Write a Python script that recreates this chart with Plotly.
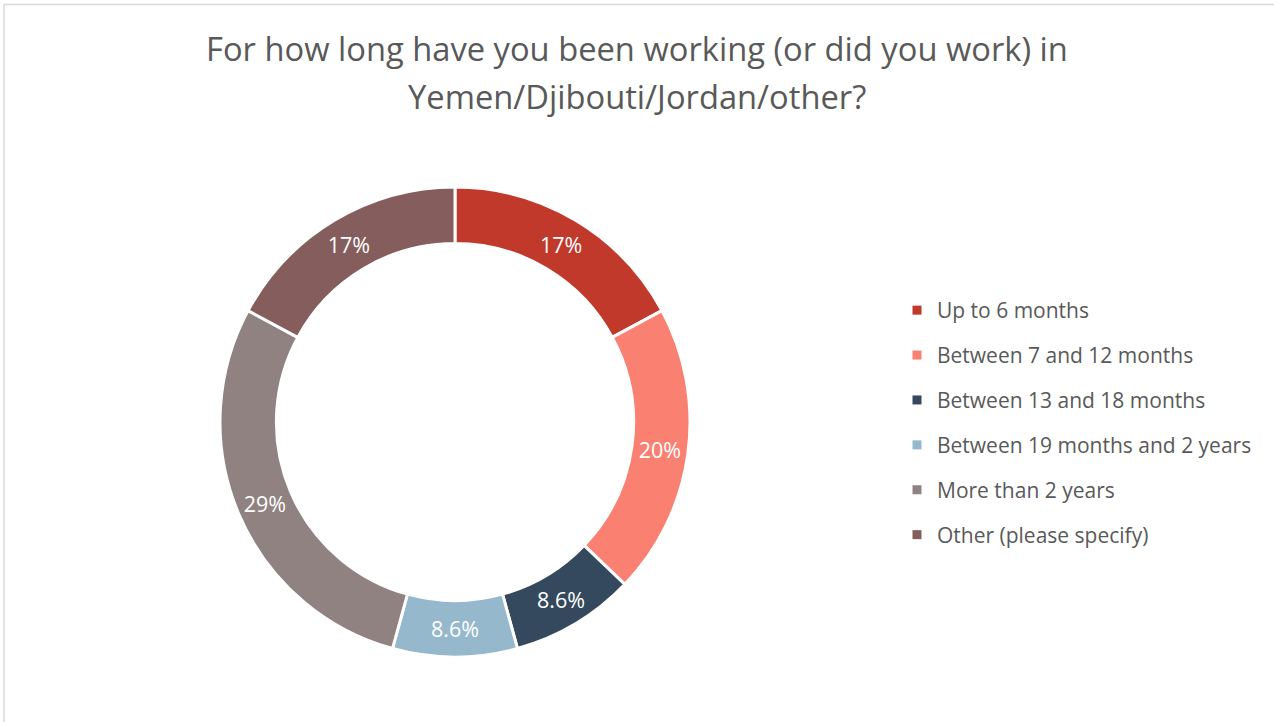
import plotly.graph_objects as go

title_lines = ["For how long have you been working (or did you work) in",
               "Yemen/Djibouti/Jordan/other?"]
categories = ["Up to 6 months", "Between 7 and 12 months", "Between 13 and 18 months",
              "Between 19 months and 2 years", "More than 2 years", "Other (please specify)"]
counts = [6, 7, 3, 3, 10, 6]
pct_labels = ["17%", "20%", "8.6%", "8.6%", "29%", "17%"]
colors = ["#C0392B", "#FA8072", "#34495E", "#95B8CC", "#8F8281", "#855D5C"]

W, H = 1274, 722
cx, cy, R = 455, 422, 235
FONT = "Open Sans"
TXT = "#595959"

fig = go.Figure()
fig.add_trace(go.Pie(
    labels=categories, values=counts, text=pct_labels, textinfo="text",
    hole=0.76, sort=False, direction="clockwise", rotation=0,
    marker=dict(colors=colors, line=dict(color="white", width=3)),
    textposition="inside", insidetextorientation="horizontal",
    textfont=dict(color="white", size=21.5, family=FONT),
    domain=dict(x=[(cx - R) / W, (cx + R) / W], y=[(H - cy - R) / H, (H - cy + R) / H]),
    hoverinfo="label+text", showlegend=False,
))

# legend entries (one per category, same colours as slices)
for cat, col in zip(categories, colors):
    fig.add_trace(go.Scatter(x=[None], y=[None], mode="markers", name=cat, legendgroup=cat,
                             marker=dict(symbol="square", size=9, color=col), hoverinfo="skip"))

fig.update_layout(
    width=W, height=H,
    margin=dict(l=0, r=0, t=0, b=0),
    paper_bgcolor="white", plot_bgcolor="white",
    xaxis=dict(visible=False), yaxis=dict(visible=False),
    title=dict(text=title_lines[0],
               x=0.5, xanchor="center", y=1 - 50 / H, yanchor="middle",
               font=dict(family=FONT, size=32.7, color=TXT)),
    annotations=[dict(text=title_lines[1], xref="paper", yref="paper", x=0.5, xanchor="center",
                      y=1 - 97 / H, yanchor="middle", showarrow=False,
                      font=dict(family=FONT, size=32.7, color=TXT))],
    legend=dict(x=(937 - 40) / W, xanchor="left", y=1 - 290 / H, yanchor="top",
                font=dict(family=FONT, size=21, color=TXT),
                traceorder="grouped", tracegroupgap=14.6, bgcolor="rgba(0,0,0,0)"),
    shapes=[dict(type="rect", xref="paper", yref="paper", x0=4 / W, x1=1.05, y0=-0.05, y1=1 - 4.5 / H,
                 line=dict(color="#D9D9D9", width=1.5), fillcolor="rgba(0,0,0,0)")],
)

fig.write_html("out.html", config={"displayModeBar": False},
               post_script="document.body.style.margin='0';")
